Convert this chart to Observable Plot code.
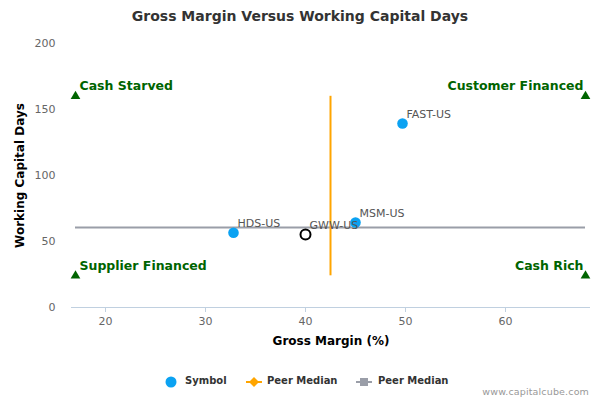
<!DOCTYPE html>
<html>
<head>
<meta charset="utf-8">
<script src="https://cdn.jsdelivr.net/npm/d3@7"></script>
<script src="https://cdn.jsdelivr.net/npm/@observablehq/plot@0.6"></script>
<style>
  body { margin: 0; background: #fff; font-family: "DejaVu Sans", sans-serif; }
  #wrap { width: 600px; height: 400px; position: relative; overflow: hidden; }
  #title { height: 30px; line-height: 32px; text-align: center; font-size: 14px; font-weight: bold; color: #333; }
  #legend { position: relative; height: 40px; }
  .li { position: absolute; top: 15px; font-size: 10px; font-weight: bold; color: #333; white-space: nowrap; }
  #credits { position: absolute; right: 11px; top: 26px; font-size: 9.5px; color: #999; letter-spacing: 0.15px; }
</style>
</head>
<body>
<div id="wrap">
  <div id="title">Gross Margin Versus Working Capital Days</div>
  <div id="chart"></div>
  <div id="legend"></div>
</div>
<script>
// ---- data ----
const symbols = ["FAST-US", "MSM-US", "HDS-US"];
const grossMargin = [49.7, 45.0, 32.8];
const workingCapitalDays = [139.4, 64.4, 56.6];

const focusSymbol = ["GWW-US"];
const focusMargin = [40.0];
const focusDays = [55.3];

const peerMedianMargin = 42.5;
const peerMedianDays = 60.6;

const quadrantNames = ["Cash Starved", "Customer Financed", "Supplier Financed", "Cash Rich"];
const quadrantX = [17, 68, 17, 68];
const quadrantY = [160, 160, 24, 24];

const xTicks = [20, 30, 40, 50, 60];
const yTicks = [0, 50, 100, 150, 200];
const xDomain = [16.6, 68.5];
const yDomain = [0, 200];

const legendLabels = ["Symbol", "Peer Median", "Peer Median"];

// ---- tables ----
const peers = symbols.map((s, i) => ({s, x: grossMargin[i], y: workingCapitalDays[i]}));
const focus = focusSymbol.map((s, i) => ({s, x: focusMargin[i], y: focusDays[i]}));
const quads = quadrantNames.map((n, i) => ({n, x: quadrantX[i], y: quadrantY[i]}));
const leftQuads = quads.filter(d => d.x < peerMedianMargin);
const rightQuads = quads.filter(d => d.x > peerMedianMargin);

const green = "#006400";
const font = "DejaVu Sans, sans-serif";

const chart = Plot.plot({
  width: 600,
  height: 330,
  marginTop: 13,
  marginBottom: 53,
  marginLeft: 71,
  marginRight: 10,
  style: {fontFamily: font, background: "#fff"},
  x: {domain: xDomain, ticks: xTicks, label: null},
  y: {domain: yDomain, ticks: yTicks, label: null},
  marks: [
    Plot.ruleY([0], {stroke: "#c0d0e0", strokeWidth: 1}),
    Plot.axisX({ticks: xTicks, tickSize: 5, tickPadding: 5, stroke: "#c0d0e0", color: "#666", fontSize: 11, label: null}),
    Plot.axisY({ticks: yTicks, tickSize: 0, tickPadding: 16, color: "#666", fontSize: 11, label: null}),
    Plot.text(["Gross Margin (%)"], {frameAnchor: "bottom", lineAnchor: "middle", textAnchor: "middle", dy: 34, fontSize: 12, fontWeight: "bold", fill: "#000"}),
    Plot.text(["Working Capital Days"], {frameAnchor: "left", textAnchor: "middle", lineAnchor: "middle", dx: -51, rotate: -90, fontSize: 12, fontWeight: "bold", fill: "#000"}),
    // peer median lines
    Plot.ruleY([peerMedianDays], {x1: quadrantX[0], x2: quadrantX[1], stroke: "#9a9ea8", strokeWidth: 2}),
    Plot.ruleX([peerMedianMargin], {y1: quadrantY[2], y2: quadrantY[0], stroke: "#ffa500", strokeWidth: 2}),
    // quadrant markers
    Plot.dot(quads, {x: "x", y: "y", symbol: "triangle", r: 3.6, fill: green, stroke: "none"}),
    Plot.text(leftQuads, {x: "x", y: "y", text: "n", textAnchor: "start", dx: 4, dy: -10, fill: green, fontWeight: "bold", fontSize: 12.5}),
    Plot.text(rightQuads, {x: "x", y: "y", text: "n", textAnchor: "end", dx: -2, dy: -10, fill: green, fontWeight: "bold", fontSize: 12.5}),
    // points
    Plot.dot(peers, {x: "x", y: "y", r: 5.3, fill: "#0ba2f2", stroke: "none"}),
    Plot.dot(focus, {x: "x", y: "y", r: 5, fill: "none", stroke: "#000", strokeWidth: 2}),
    Plot.text(peers.concat(focus), {x: "x", y: "y", text: "s", textAnchor: "start", dx: 4, dy: -9, fill: "#555", fontSize: 11})
  ]
});
document.getElementById("chart").appendChild(chart);

// ---- legend ----
const legend = document.getElementById("legend");
const sw = (html, left) => {
  const d = document.createElement("div");
  d.style.position = "absolute"; d.style.left = left + "px"; d.style.top = "14px";
  d.innerHTML = html; legend.appendChild(d);
};
sw('<svg width="12" height="16"><circle cx="6" cy="8" r="5.5" fill="#0ba2f2"/></svg>', 165);
sw('<svg width="18" height="16"><line x1="0" y1="8" x2="16" y2="8" stroke="#ffa500" stroke-width="2"/><path d="M8 3 L13 8 L8 13 L3 8 Z" fill="#ffa500"/></svg>', 246);
sw('<svg width="18" height="16"><line x1="0" y1="8" x2="16" y2="8" stroke="#9a9ea8" stroke-width="2"/><rect x="4" y="4" width="8" height="8" fill="#9a9ea8"/></svg>', 356);
const lefts = [185, 267, 378];
legendLabels.forEach((t, i) => {
  const d = document.createElement("div");
  d.className = "li"; d.style.left = lefts[i] + "px"; d.textContent = t;
  legend.appendChild(d);
});
const cr = document.createElement("div");
cr.id = "credits"; cr.textContent = "www.capitalcube.com";
legend.appendChild(cr);
</script>
</body>
</html>
